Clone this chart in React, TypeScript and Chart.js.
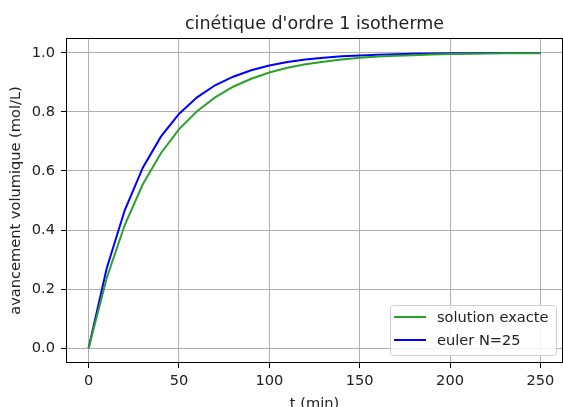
import { useEffect, useRef } from "react";
import { Chart, registerables } from "chart.js";

Chart.register(...registerables);

const times = [0, 10, 20, 30, 40, 50, 60, 70, 80, 90, 100, 110, 120, 130, 140, 150, 160, 170, 180, 190, 200, 210, 220, 230, 240, 250];
const exactValues = [0, 0.237, 0.417, 0.555, 0.66, 0.741, 0.802, 0.849, 0.885, 0.912, 0.933, 0.949, 0.961, 0.97, 0.977, 0.983, 0.987, 0.99, 0.992, 0.994, 0.9955, 0.9966, 0.9974, 0.998, 0.9985, 0.9988];
const eulerValues = [0, 0.27, 0.467, 0.611, 0.716, 0.793, 0.849, 0.89, 0.919, 0.941, 0.957, 0.969, 0.977, 0.983, 0.988, 0.991, 0.9935, 0.9953, 0.9965, 0.9975, 0.9982, 0.9987, 0.999, 0.9993, 0.9995, 0.9996];
const xTickValues = [0, 50, 100, 150, 200, 250];
const xTickLabels = ["0", "50", "100", "150", "200", "250"];
const yTickValues = [0, 0.2, 0.4, 0.6, 0.8, 1.0];
const yTickLabels = ["0.0", "0.2", "0.4", "0.6", "0.8", "1.0"];
const seriesLabels = ["solution exacte", "euler N=25"];
const seriesColors = ["#2ca02c", "#0000ff"];
const titleText = "cinétique d'ordre 1 isotherme";
const xTitle = "t (min)";
const yTitle = "avancement volumique (mol/L)";

const FONT = "'DejaVu Sans', sans-serif";
const W = 563;
const H = 407;

const decorPlugin = {
  id: "decor",
  beforeDraw(chart: any) {
    const ctx = chart.ctx;
    ctx.save();
    ctx.fillStyle = "#ffffff";
    ctx.fillRect(0, 0, chart.width, chart.height);
    ctx.restore();
  },
  afterDatasetsDraw(chart: any) {
    const ctx = chart.ctx;
    const a = chart.chartArea;
    ctx.save();
    // frame
    ctx.strokeStyle = "#000000";
    ctx.lineWidth = 1;
    ctx.strokeRect(Math.round(a.left) + 0.5, Math.round(a.top) + 0.5, Math.round(a.right - a.left) - 1, Math.round(a.bottom - a.top) - 1);
    // legend (lower right)
    const bx = 390.5, by = 305.5, bw = 166, bh = 50;
    ctx.fillStyle = "rgba(255,255,255,0.85)";
    ctx.strokeStyle = "#d0d0d0";
    ctx.lineWidth = 1;
    ctx.beginPath();
    (ctx as any).roundRect(bx, by, bw, bh, 3);
    ctx.fill();
    ctx.stroke();
    ctx.font = `14.6px ${FONT}`;
    ctx.textBaseline = "middle";
    ctx.textAlign = "left";
    chart.data.datasets.forEach((ds: any, i: number) => {
      const y = 317 + i * 23;
      ctx.strokeStyle = ds.borderColor;
      ctx.lineWidth = 2;
      ctx.beginPath();
      ctx.moveTo(394, y);
      ctx.lineTo(426, y);
      ctx.stroke();
      ctx.fillStyle = "#222222";
      ctx.fillText(ds.label, 437, y + 1);
    });
    ctx.restore();
  },
  afterDraw(chart: any) {
    const ctx = chart.ctx;
    const a = chart.chartArea;
    ctx.save();
    ctx.fillStyle = "#222222";
    ctx.textAlign = "center";
    ctx.textBaseline = "alphabetic";
    ctx.font = `17.5px ${FONT}`;
    ctx.fillText(titleText, (a.left + a.right) / 2, 29);
    ctx.font = `14.6px ${FONT}`;
    ctx.fillText(xTitle, (a.left + a.right) / 2, 408);
    ctx.translate(20, (a.top + a.bottom) / 2);
    ctx.rotate(-Math.PI / 2);
    ctx.fillText(yTitle, 0, 0);
    ctx.restore();
  },
};

export default function App() {
  const ref = useRef<HTMLCanvasElement | null>(null);

  useEffect(() => {
    document.body.style.margin = "0";
    const canvas = ref.current;
    if (!canvas) return;
    const chart = new Chart(canvas, {
      type: "line",
      data: {
        datasets: [
          {
            label: seriesLabels[0],
            data: times.map((t, i) => ({ x: t, y: exactValues[i] })),
            borderColor: seriesColors[0],
            backgroundColor: seriesColors[0],
            borderWidth: 2,
            pointRadius: 0,
            tension: 0,
          },
          {
            label: seriesLabels[1],
            data: times.map((t, i) => ({ x: t, y: eulerValues[i] })),
            borderColor: seriesColors[1],
            backgroundColor: seriesColors[1],
            borderWidth: 2,
            pointRadius: 0,
            tension: 0,
          },
        ],
      },
      options: {
        responsive: false,
        animation: false,
        events: [],
        layout: { padding: { top: 38, left: 0, right: 0, bottom: 0 } },
        plugins: {
          legend: { display: false },
          title: { display: false },
          tooltip: { enabled: false },
        },
        scales: {
          x: {
            type: "linear",
            min: -12.5,
            max: 262.5,
            afterFit: (s: any) => {
              s.height = 44;
            },
            afterBuildTicks: (s: any) => {
              s.ticks = xTickValues.map((v) => ({ value: v }));
            },
            border: { display: false },
            grid: {
              color: "#b0b0b0",
              lineWidth: 1,
              drawTicks: true,
              tickLength: 5,
              tickColor: "#000000",
            },
            ticks: {
              autoSkip: false,
              maxRotation: 0,
              padding: 4,
              color: "#222222",
              font: { family: FONT, size: 14.6 },
              callback: (_v: any, i: number) => xTickLabels[i],
            },
          },
          y: {
            type: "linear",
            min: -0.05,
            max: 1.05,
            afterFit: (s: any) => {
              s.width = 66;
            },
            afterBuildTicks: (s: any) => {
              s.ticks = yTickValues.map((v) => ({ value: v }));
            },
            border: { display: false },
            grid: {
              color: "#b0b0b0",
              lineWidth: 1,
              drawTicks: true,
              tickLength: 5,
              tickColor: "#000000",
            },
            ticks: {
              autoSkip: false,
              padding: 6,
              color: "#222222",
              font: { family: FONT, size: 14.6 },
              callback: (_v: any, i: number) => yTickLabels[i],
            },
          },
        },
      },
      plugins: [decorPlugin],
    });
    return () => chart.destroy();
  }, []);

  return (
    <div style={{ position: "fixed", left: 0, top: 0, width: W, height: H }}>
      <canvas ref={ref} width={W} height={H} style={{ display: "block", width: W, height: H }} />
    </div>
  );
}
